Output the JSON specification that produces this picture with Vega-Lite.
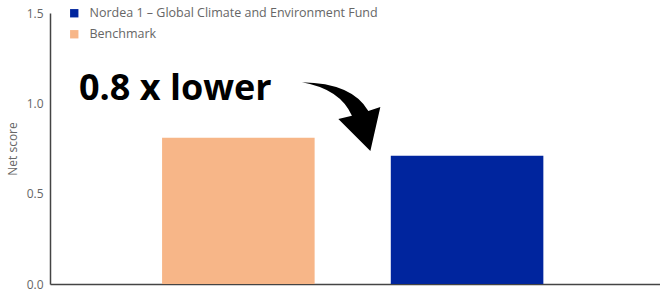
{
  "$schema": "https://vega.github.io/schema/vega-lite/v6.json",
  "width": 610,
  "height": 271,
  "autosize": {"type": "none"},
  "padding": {"left": 50, "top": 13, "right": 0, "bottom": 7},
  "config": {
    "view": {"stroke": null},
    "font": "Open Sans"
  },
  "datasets": {
    "bars": [
      {"series": "Benchmark", "score": 0.81},
      {"series": "Nordea 1 – Global Climate and Environment Fund", "score": 0.71}
    ],
    "note": [
      {"series": "Benchmark", "score": 1.02, "label": "0.8 x lower"}
    ],
    "arrow": [
      {"series": "Benchmark", "score": 0.924}
    ]
  },
  "layer": [
    {
      "data": {"name": "bars"},
      "mark": {"type": "bar"},
      "encoding": {
        "x": {
          "field": "series", "type": "nominal",
          "sort": ["Benchmark", "Nordea 1 – Global Climate and Environment Fund"],
          "scale": {"paddingInner": 0.333, "paddingOuter": 0.5, "align": 0.49},
          "axis": {"title": null, "labels": false, "ticks": false, "domainColor": "#444444", "domainWidth": 1.5}
        },
        "y": {
          "field": "score", "type": "quantitative",
          "scale": {"domain": [0, 1.5], "nice": false},
          "axis": {
            "title": "Net score", "values": [0, 0.5, 1, 1.5], "format": ".1f",
            "grid": false, "ticks": false, "domainColor": "#444444", "domainWidth": 1.5,
            "labelColor": "#666666", "labelFontSize": 12, "labelPadding": 7,
            "titleColor": "#666666", "titleFontSize": 12, "titleFontWeight": "normal", "titlePadding": 7
          }
        },
        "color": {
          "field": "series", "type": "nominal",
          "scale": {
            "domain": ["Nordea 1 – Global Climate and Environment Fund", "Benchmark"],
            "range": ["#00259E", "#F7B688"]
          },
          "legend": {
            "title": null, "orient": "none", "legendX": 18, "legendY": -6,
            "symbolType": "square", "symbolSize": 70, "symbolStrokeWidth": 0,
            "labelFontSize": 12.5, "labelColor": "#666666", "labelLimit": 400,
            "rowPadding": 8, "labelOffset": 9
          }
        }
      }
    },
    {
      "data": {"name": "note"},
      "mark": {"type": "text", "fontSize": 36, "fontWeight": "bold", "font": "Open Sans", "color": "#000000", "align": "center", "baseline": "alphabetic", "dx": -63},
      "encoding": {
        "x": {"field": "series", "type": "nominal"},
        "y": {"field": "score", "type": "quantitative"},
        "text": {"field": "label"}
      }
    },
    {
      "data": {"name": "arrow"},
      "mark": {
        "type": "point", "filled": true, "color": "#000000", "opacity": 1, "size": 6400,
        "shape": "M 1.59 -0.87 Q 2.85 -0.85 3.25 -0.15 L 3.55 -0.25 L 3.3 0.85 L 2.5 0.05 L 2.84 -0.03 Q 2.55 -0.7 1.59 -0.87 Z"
      },
      "encoding": {
        "x": {"field": "series", "type": "nominal"},
        "y": {"field": "score", "type": "quantitative"}
      }
    }
  ]
}
